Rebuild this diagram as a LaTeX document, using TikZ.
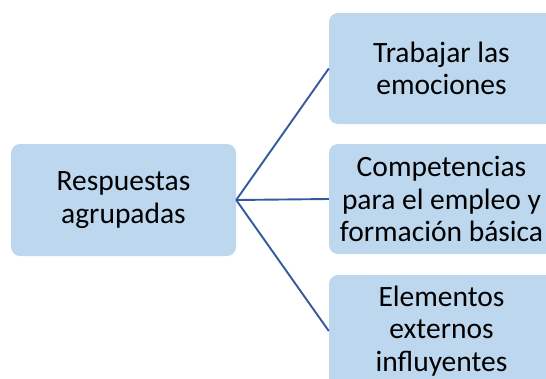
\documentclass[tikz,border=0pt]{standalone}
\usepackage{fontspec}
\setmainfont{Carlito}
\usepackage{xcolor}
\usepackage{tikz}
\definecolor{boxblue}{RGB}{189,215,238}
\definecolor{linkblue}{RGB}{52,90,158}
\tikzset{
	grupo/.style={fill=boxblue, rounded corners=9pt, minimum width=225pt, inner sep=0pt, align=center, font=\fontsize{29.5}{32.5}\selectfont},
	enlace/.style={draw=linkblue, line width=1.9pt}
}

\begin{document}
\begin{tikzpicture}[x=1pt,y=-1pt]
	\useasboundingbox (0,0) rectangle (546,378);
	\clip (0,0) rectangle (546,378);
		% caja central
		\node[grupo, minimum height=112pt] (resp) at (123.5,200) {Respuestas\\agrupadas};
		
		% cajas de la derecha
		\node[grupo, minimum height=111pt] (emoc) at (441.5,68.5) {Trabajar las\\emociones};
		\node[grupo, minimum height=110pt] (comp) at (441.5,199) {Competencias\\para el empleo y\\formación básica};
		\node[grupo, minimum height=112pt] (elem) at (441.5,331) {Elementos\\externos\\influyentes};
		
		\draw[enlace] (resp.east) -- (emoc.west);
		\draw[enlace] (resp.east) -- (comp.west);
		\draw[enlace] (resp.east) -- (elem.west);
	\end{tikzpicture}
\end{document}
